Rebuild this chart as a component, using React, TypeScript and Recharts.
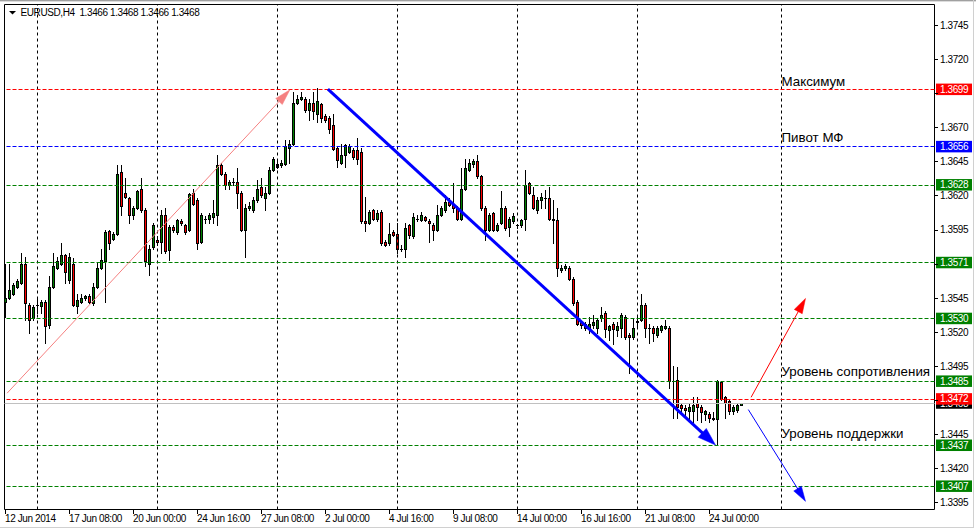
import React from "react";
import {
  ComposedChart,
  Bar,
  XAxis,
  YAxis,
  ReferenceLine,
  ReferenceArea,
  ReferenceDot,
} from "recharts";

const FONT = "'Liberation Sans', Arial, sans-serif";
const BULL = "#008000";
const BEAR = "#ff0000";

// EURUSD H4 candles (bar 0 = 12 Jun 2014 16:00)
const opens = [
  1.3542, 1.3545, 1.3548, 1.3553, 1.3556, 1.357, 1.354, 1.353, 1.354, 1.3539,
  1.3542, 1.3525, 1.3553, 1.3567, 1.357, 1.3576, 1.3558, 1.357, 1.3539, 1.3542,
  1.3545, 1.3546, 1.3541, 1.3553, 1.3567, 1.3572, 1.3594, 1.3588, 1.3592, 1.3637,
  1.3622, 1.3618, 1.3606, 1.3611, 1.3625, 1.3609, 1.357, 1.3582, 1.3587, 1.3586,
  1.3606, 1.358, 1.3597, 1.3593, 1.3601, 1.3598, 1.3595, 1.3622, 1.3617, 1.3586,
  1.3603, 1.3603, 1.3604, 1.3606, 1.3642, 1.3636, 1.3628, 1.363, 1.363, 1.3622,
  1.3595, 1.3611, 1.3609, 1.3617, 1.3626, 1.3618, 1.3622, 1.3639, 1.3641, 1.3642,
  1.3643, 1.3655, 1.3658, 1.3688, 1.3691, 1.3691, 1.3683, 1.3688, 1.368, 1.3687,
  1.3678, 1.3677, 1.3672, 1.3655, 1.3644, 1.365, 1.3652, 1.3653, 1.3653, 1.3652,
  1.3601, 1.36, 1.3609, 1.3603, 1.3608, 1.3586, 1.3585, 1.3593, 1.3592, 1.3581,
  1.3581, 1.3598, 1.359, 1.3603, 1.3602, 1.3604, 1.3601, 1.3598, 1.3595, 1.3606,
  1.3609, 1.3615, 1.3614, 1.3611, 1.3603, 1.3625, 1.3639, 1.3643, 1.3645, 1.3634,
  1.3611, 1.3595, 1.3607, 1.3595, 1.36, 1.3611, 1.3597, 1.3601, 1.3598, 1.3598,
  1.3603, 1.3629, 1.362, 1.3609, 1.3617, 1.3618, 1.3618, 1.3603, 1.3602, 1.3565,
  1.3567, 1.3567, 1.3559, 1.3542, 1.3527, 1.3526, 1.3523, 1.3525, 1.3523, 1.353,
  1.3534, 1.3521, 1.3526, 1.3521, 1.3523, 1.3531, 1.3518, 1.3516, 1.3527, 1.3529,
  1.354, 1.3523, 1.3523, 1.3518, 1.3521, 1.3523, 1.3523, 1.3484, 1.3485, 1.3466,
  1.3464, 1.3462, 1.3462, 1.3468, 1.3465, 1.346, 1.346, 1.3457, 1.3456, 1.3483,
  1.3472, 1.3469, 1.3462, 1.3463, 1.3466,
];
const highs = [
  1.357, 1.357, 1.3556, 1.3559, 1.3578, 1.3575, 1.3541, 1.354, 1.3545, 1.3543,
  1.3543, 1.3561, 1.3578, 1.3575, 1.3585, 1.3577, 1.3578, 1.3574, 1.3548, 1.3548,
  1.3547, 1.3548, 1.3556, 1.3571, 1.3581, 1.3595, 1.3595, 1.3593, 1.3642, 1.3642,
  1.3633, 1.3619, 1.3612, 1.3624, 1.3633, 1.3611, 1.3584, 1.36, 1.359, 1.3609,
  1.3611, 1.3598, 1.3598, 1.3603, 1.3603, 1.3599, 1.3622, 1.3625, 1.3618, 1.3607,
  1.3605, 1.3607, 1.3617, 1.365, 1.3644, 1.3637, 1.3631, 1.3633, 1.364, 1.3623,
  1.3614, 1.3615, 1.3619, 1.3631, 1.3633, 1.3626, 1.3641, 1.3648, 1.3646, 1.3646,
  1.3661, 1.3661, 1.3696, 1.3694, 1.3696, 1.3692, 1.3691, 1.3696, 1.3699, 1.3688,
  1.368, 1.3678, 1.368, 1.3656, 1.3658, 1.3658, 1.3658, 1.3655, 1.3662, 1.3655,
  1.3619, 1.3609, 1.361, 1.3609, 1.3609, 1.3587, 1.36, 1.3595, 1.36, 1.3584,
  1.36, 1.3599, 1.3607, 1.3606, 1.3608, 1.3605, 1.3603, 1.36, 1.3613, 1.3612,
  1.362, 1.3618, 1.3629, 1.3612, 1.364, 1.3647, 1.3647, 1.3647, 1.365, 1.3635,
  1.3612, 1.3607, 1.3608, 1.36, 1.3623, 1.3612, 1.3604, 1.3607, 1.3599, 1.3603,
  1.3639, 1.363, 1.3626, 1.3619, 1.3622, 1.3624, 1.3626, 1.3617, 1.3611, 1.3569,
  1.357, 1.3568, 1.356, 1.3543, 1.3528, 1.3527, 1.3531, 1.3532, 1.353, 1.3538,
  1.3535, 1.3525, 1.3527, 1.3527, 1.3534, 1.3532, 1.3519, 1.353, 1.3531, 1.3548,
  1.3541, 1.3526, 1.3524, 1.3524, 1.3525, 1.3529, 1.3524, 1.3495, 1.3494, 1.3468,
  1.3466, 1.3468, 1.3472, 1.3472, 1.3466, 1.3463, 1.3461, 1.3461, 1.3485, 1.3484,
  1.3473, 1.347, 1.3466, 1.3468, 1.3468,
];
const lows = [
  1.3531, 1.3544, 1.3547, 1.3552, 1.3555, 1.3529, 1.3519, 1.3529, 1.3534, 1.3534,
  1.3512, 1.3523, 1.3552, 1.3566, 1.3569, 1.3556, 1.3556, 1.3539, 1.3534, 1.3541,
  1.3543, 1.3541, 1.354, 1.3552, 1.3566, 1.3542, 1.3581, 1.3587, 1.3591, 1.3606,
  1.3618, 1.36, 1.3603, 1.361, 1.3608, 1.3568, 1.3562, 1.3581, 1.3584, 1.3578,
  1.3578, 1.3573, 1.3593, 1.3592, 1.3598, 1.3592, 1.3594, 1.3613, 1.3581, 1.3585,
  1.36, 1.36, 1.36, 1.3598, 1.3635, 1.3625, 1.3625, 1.3628, 1.3611, 1.3594,
  1.3575, 1.3609, 1.3608, 1.3615, 1.3619, 1.3609, 1.3621, 1.3638, 1.364, 1.3641,
  1.3642, 1.3644, 1.3657, 1.3687, 1.369, 1.3681, 1.3675, 1.3676, 1.3674, 1.3674,
  1.3674, 1.3666, 1.3653, 1.3641, 1.3643, 1.3641, 1.3651, 1.3647, 1.3643, 1.36,
  1.3594, 1.3599, 1.3602, 1.3601, 1.3584, 1.3583, 1.3584, 1.359, 1.3578, 1.3579,
  1.3575, 1.3589, 1.3589, 1.3601, 1.3601, 1.3601, 1.3586, 1.3587, 1.3594, 1.3605,
  1.3608, 1.3612, 1.3608, 1.3602, 1.3602, 1.3624, 1.3638, 1.3641, 1.3633, 1.3609,
  1.3587, 1.3594, 1.3594, 1.3594, 1.3599, 1.3595, 1.359, 1.36, 1.3596, 1.3597,
  1.3595, 1.3621, 1.361, 1.3607, 1.3611, 1.3611, 1.3602, 1.3585, 1.3561, 1.3564,
  1.3565, 1.3558, 1.354, 1.3525, 1.3523, 1.3521, 1.3519, 1.3523, 1.3519, 1.3528,
  1.3516, 1.3514, 1.3511, 1.3517, 1.3516, 1.3515, 1.349, 1.3515, 1.3523, 1.3528,
  1.3516, 1.3512, 1.3513, 1.3516, 1.352, 1.3522, 1.3479, 1.3457, 1.3457, 1.3461,
  1.3457, 1.3456, 1.3454, 1.3455, 1.3454, 1.3455, 1.3454, 1.3455, 1.3437, 1.347,
  1.3457, 1.346, 1.346, 1.3461, 1.3466,
];
const closes = [
  1.3545, 1.3551, 1.3554, 1.3557, 1.357, 1.3541, 1.3529, 1.3538, 1.354, 1.3542,
  1.3524, 1.3553, 1.3568, 1.3572, 1.3576, 1.3564, 1.3575, 1.354, 1.3543, 1.3545,
  1.3546, 1.3542, 1.3553, 1.3567, 1.3573, 1.3593, 1.3585, 1.3592, 1.3636, 1.3612,
  1.3619, 1.3606, 1.3611, 1.3623, 1.3609, 1.3572, 1.3581, 1.3598, 1.3586, 1.3606,
  1.3579, 1.3597, 1.3595, 1.3602, 1.36, 1.3593, 1.3621, 1.3614, 1.3585, 1.3606,
  1.3603, 1.3606, 1.3607, 1.3642, 1.3636, 1.3628, 1.363, 1.363, 1.3622, 1.3595,
  1.3611, 1.3612, 1.3617, 1.3625, 1.362, 1.3622, 1.3639, 1.3647, 1.3643, 1.3644,
  1.3656, 1.3658, 1.3688, 1.3691, 1.3692, 1.3683, 1.3688, 1.3682, 1.3689, 1.3677,
  1.3675, 1.3669, 1.3654, 1.3646, 1.365, 1.3657, 1.3656, 1.3648, 1.3647, 1.3601,
  1.36, 1.3608, 1.3603, 1.3607, 1.3585, 1.3584, 1.3592, 1.3591, 1.3581, 1.3581,
  1.3596, 1.3591, 1.3604, 1.3603, 1.3606, 1.3602, 1.36, 1.3595, 1.3606, 1.3611,
  1.3615, 1.3613, 1.3611, 1.3603, 1.3625, 1.364, 1.3644, 1.3645, 1.3634, 1.3611,
  1.3595, 1.3606, 1.3595, 1.3598, 1.3611, 1.3596, 1.3603, 1.3605, 1.3598, 1.3602,
  1.3628, 1.3622, 1.3611, 1.3617, 1.3619, 1.3618, 1.3603, 1.3602, 1.3567, 1.3567,
  1.3568, 1.3559, 1.3541, 1.3526, 1.3525, 1.3523, 1.3526, 1.3527, 1.3529, 1.3532,
  1.3522, 1.3524, 1.3522, 1.3524, 1.3532, 1.3516, 1.3516, 1.3523, 1.3528, 1.354,
  1.3523, 1.3523, 1.3519, 1.3523, 1.3524, 1.3524, 1.3484, 1.3484, 1.3465, 1.3464,
  1.3463, 1.3465, 1.3466, 1.3465, 1.3461, 1.3462, 1.3457, 1.3456, 1.3484, 1.3471,
  1.3468, 1.3462, 1.3465, 1.3466, 1.3468,
];

const xTickBars = [0, 16, 32, 48, 64, 80, 96, 112, 128, 144, 160, 176];
const xTickLabels = [
  "12 Jun 2014", "17 Jun 08:00", "20 Jun 00:00", "24 Jun 16:00",
  "27 Jun 08:00", "2 Jul 00:00", "4 Jul 16:00", "9 Jul 08:00",
  "14 Jul 00:00", "16 Jul 16:00", "21 Jul 08:00", "24 Jul 00:00",
];
const gridBars = [8, 38, 68, 98, 128, 158, 194];
const priceTicks = [
  1.3395, 1.342, 1.3445, 1.347, 1.3495, 1.352, 1.3545, 1.357,
  1.3595, 1.362, 1.3645, 1.367, 1.3695, 1.372, 1.3745,
];

const X_DOMAIN = [-0.25, 232.25];
const Y_DOMAIN = [1.338972, 1.376003];

const levels = [
  { price: 1.3698, text: "1.3699", line: "#ff0000", box: "#ff0000", dash: "4 2" },
  { price: 1.3656, text: "1.3656", line: "#0000ff", box: "#0000ff", dash: "4 2" },
  { price: 1.3628, text: "1.3628", line: "#008000", box: "#008000", dash: "4 2" },
  { price: 1.3571, text: "1.3571", line: "#008000", box: "#008000", dash: "4 2" },
  { price: 1.353, text: "1.3530", line: "#008000", box: "#008000", dash: "4 2" },
  { price: 1.3484, text: "1.3485", line: "#008000", box: "#008000", dash: "4 2" },
  { price: 1.3468, text: "1.3468", line: "#c0c0c0", box: "#000000", dash: "" },
  { price: 1.3471, text: "1.3472", line: "#ff0000", box: "#ff0000", dash: "4 2" },
  { price: 1.3437, text: "1.3437", line: "#008000", box: "#008000", dash: "4 2" },
  { price: 1.3407, text: "1.3407", line: "#008000", box: "#008000", dash: "4 2" },
];

const arrows = [
  { from: [0.4, 1.3475], to: [71.1, 1.36975], color: "#f58080", width: 1, head: 16, half: 4.5 },
  { from: [80.6, 1.3698], to: [177.5, 1.3437], color: "#0000ff", width: 3, head: 18, half: 6 },
  { from: [186.4, 1.3472], to: [200, 1.35445], color: "#ff0000", width: 1, head: 15, half: 4.5 },
  { from: [185.7, 1.3463], to: [200, 1.33957], color: "#0000ff", width: 1, head: 15, half: 4.5 },
];

const notes = [
  { bar: 194, price: 1.37, text: "Максимум" },
  { bar: 194, price: 1.36594, text: "Пивот МФ" },
  { bar: 194, price: 1.34875, text: "Уровень сопротивления" },
  { bar: 194, price: 1.34422, text: "Уровень поддержки" },
];

const candles = opens.map((o, i) => ({
  i,
  open: o,
  high: highs[i],
  low: lows[i],
  close: closes[i],
}));

const Candle = (props: any) => {
  const { x, y, width, height, payload } = props;
  if (x == null || y == null || !payload) return null;
  const { open, high, low, close } = payload;
  const top = Math.min(y, y + height);
  const bottom = Math.max(y, y + height);
  const k = (bottom - top) / (high - low);
  const at = (p: number) => top + (high - p) * k;
  const cx = Math.floor(x + width / 2) + 0.5;
  const b1 = Math.round(Math.min(at(open), at(close)));
  const b2 = Math.round(Math.max(at(open), at(close)));
  const fill = close > open ? BULL : close < open ? BEAR : "#000";
  return (
    <g>
      <line x1={cx} x2={cx} y1={Math.round(top)} y2={Math.round(bottom) + 1} stroke="#000" strokeWidth={1} />
      {b2 - b1 >= 1 ? (
        <rect x={cx - 1} y={b1 + 0.5} width={2} height={b2 - b1} fill={fill} stroke="#000" strokeWidth={1} />
      ) : (
        <line x1={cx - 1.5} x2={cx + 1.5} y1={b1 + 0.5} y2={b1 + 0.5} stroke="#000" strokeWidth={1} />
      )}
    </g>
  );
};

const XTick = (props: any) => {
  const { x, y, payload } = props;
  const idx = xTickBars.indexOf(payload.value);
  const cx = Math.floor(x) + 0.5;
  return (
    <g>
      <line x1={cx} x2={cx} y1={y + 0.5} y2={y + 4.5} stroke="#000" strokeWidth={1} />
      <text x={cx - 0.5} y={y + 12.8} fontSize={10} fontFamily={FONT} letterSpacing={-0.4} fill="#000" textAnchor="start">
        {xTickLabels[idx]}
      </text>
    </g>
  );
};

// a price tick whose text sits under a level box is drawn without its text
const YTick = (props: any) => {
  const { x, y, payload } = props;
  const v = Number(payload.value);
  const yy = Math.round(y) + 0.5;
  const covered = levels.some((l) => Math.abs(l.price - v) < 0.0005);
  return (
    <g>
      <line x1={x + 0.5} x2={x + 3.5} y1={yy} y2={yy} stroke="#000" strokeWidth={1} />
      {!covered && (
        <text x={x + 5.5} y={y + 3.8} fontSize={10} fontFamily={FONT} letterSpacing={-0.4} fill="#000" textAnchor="start">
          {v.toFixed(4)}
        </text>
      )}
    </g>
  );
};

const levelShape = (p: any) => {
  const yy = Math.round(p.y1) + 0.5;
  return (
    <line x1={p.x1} x2={p.x2} y1={yy} y2={yy} stroke={p.stroke} strokeWidth={1} strokeDasharray={p.strokeDasharray} />
  );
};

const gridShape = (p: any) => {
  const xx = Math.floor(p.x1) + 0.5;
  return (
    <line x1={xx} x2={xx} y1={p.y1} y2={p.y2} stroke="#000" strokeWidth={1} strokeDasharray="3 3" />
  );
};

const levelLabel = (text: string, box: string) => (props: any) => {
  const vb = props.viewBox || {};
  const right = vb.x + vb.width;
  const yv = vb.y;
  return (
    <g>
      <rect x={right + 1.5} y={yv - 5.5} width={36} height={11.5} fill={box} />
      <text x={right + 5.5} y={yv + 3.8} fontSize={10} fontFamily={FONT} letterSpacing={-0.4} fill="#fff">
        {text}
      </text>
    </g>
  );
};

const arrowShape = (color: string, w: number, head: number, half: number) => (p: any) => {
  const { x1, y1, x2, y2 } = p;
  const dx = x2 - x1;
  const dy = y2 - y1;
  const len = Math.hypot(dx, dy) || 1;
  const ux = dx / len;
  const uy = dy / len;
  const bx = x2 - ux * head;
  const by = y2 - uy * head;
  const pts = `${x2},${y2} ${bx - uy * half},${by + ux * half} ${bx + uy * half},${by - ux * half}`;
  return (
    <g>
      <line x1={x1} y1={y1} x2={bx + ux * 2} y2={by + uy * 2} stroke={color} strokeWidth={w} />
      <polygon points={pts} fill={color} stroke={color} strokeWidth={0.5} />
    </g>
  );
};

const noteLabel = (text: string) => (props: any) => {
  const vb = props.viewBox || {};
  return (
    <text x={vb.x} y={vb.y} fontSize={13.33} fontFamily={FONT} fill="#000">
      {text}
    </text>
  );
};

export default function App() {
  return (
    <div style={{ position: "relative", width: 976, height: 530, background: "#fff", overflow: "hidden" }}>
      <style>{`body{margin:0}`}</style>
      <ComposedChart
        width={976}
        height={530}
        data={candles}
        margin={{ top: 4.5, right: 0.5, bottom: 0.5, left: 4.5 }}
      >
        <XAxis
          type="number"
          dataKey="i"
          domain={X_DOMAIN}
          allowDataOverflow
          ticks={xTickBars}
          interval={0}
          height={20}
          tickSize={0}
          tickMargin={0}
          axisLine={false}
          tickLine={false}
          tick={(p: any) => <XTick {...p} />}
        />
        <YAxis
          orientation="right"
          type="number"
          domain={Y_DOMAIN}
          allowDataOverflow
          ticks={priceTicks}
          interval={0}
          width={41}
          tickSize={0}
          tickMargin={0}
          axisLine={false}
          tickLine={false}
          tick={(p: any) => <YTick {...p} />}
        />
        {gridBars.map((b) => (
          <ReferenceLine key={`grid-${b}`} x={b} stroke="#000" shape={gridShape} ifOverflow="visible" />
        ))}
        <ReferenceArea
          x1={X_DOMAIN[0]}
          x2={X_DOMAIN[1]}
          y1={Y_DOMAIN[0]}
          y2={Y_DOMAIN[1]}
          fill="none"
          fillOpacity={0}
          stroke="#000"
          strokeWidth={1}
          ifOverflow="visible"
        />
        <Bar
          dataKey={(d: any) => [d.low, d.high]}
          barSize={3}
          shape={Candle}
          isAnimationActive={false}
        />
        {levels.map((l) => (
          <ReferenceLine
            key={l.text}
            y={l.price}
            stroke={l.line}
            strokeDasharray={l.dash || undefined}
            shape={levelShape}
            label={levelLabel(l.text, l.box)}
            ifOverflow="visible"
          />
        ))}
        {arrows.map((a, k) => (
          <ReferenceLine
            key={`arrow-${k}`}
            segment={[
              { x: a.from[0], y: a.from[1] },
              { x: a.to[0], y: a.to[1] },
            ]}
            stroke={a.color}
            shape={arrowShape(a.color, a.width, a.head, a.half)}
            ifOverflow="visible"
          />
        ))}
        {notes.map((n) => (
          <ReferenceDot
            key={n.text}
            x={n.bar}
            y={n.price}
            r={0}
            fill="none"
            stroke="none"
            label={noteLabel(n.text)}
            ifOverflow="visible"
          />
        ))}
      </ComposedChart>
      <svg width={20} height={20} style={{ position: "absolute", left: 0, top: 0 }}>
        <polygon points="9,11 16,11 12.5,14.5" fill="#000" />
      </svg>
      <div
        style={{
          position: "absolute",
          left: 20.5,
          top: 8,
          fontFamily: FONT,
          fontSize: 10,
          lineHeight: "10px",
          letterSpacing: -0.4,
          whiteSpace: "pre",
          color: "#000",
        }}
      >
        {"EURUSD,H4  1.3466 1.3468 1.3466 1.3468"}
      </div>
      <div style={{ position: "absolute", left: 0, top: 0, width: 976, height: 1, background: "#a0a0a0" }} />
      <div style={{ position: "absolute", left: 0, top: 1, width: 976, height: 1, background: "#dcdcdc" }} />
      <div style={{ position: "absolute", left: 973, top: 0, width: 1, height: 528, background: "#d0d0d0" }} />
      <div style={{ position: "absolute", left: 0, top: 527, width: 974, height: 1, background: "#d0d0d0" }} />
    </div>
  );
}
